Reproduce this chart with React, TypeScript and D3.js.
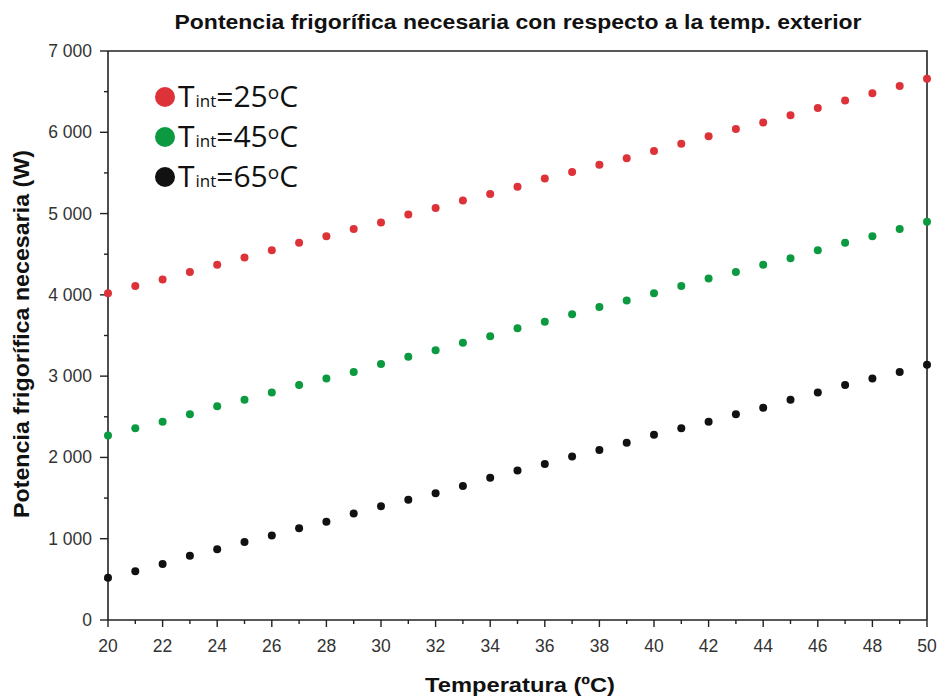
import React from "react";
import * as d3 from "d3";

const temps = d3.range(20, 51);
const tint25 = [4020, 4110, 4190, 4280, 4370, 4460, 4550, 4640, 4720, 4810, 4890, 4990, 5070, 5160, 5240, 5330, 5430, 5510, 5600, 5680, 5770, 5860, 5950, 6040, 6120, 6210, 6300, 6390, 6480, 6570, 6660];
const tint45 = [2270, 2360, 2440, 2530, 2630, 2710, 2800, 2890, 2970, 3050, 3150, 3240, 3320, 3410, 3490, 3590, 3670, 3760, 3850, 3930, 4020, 4110, 4200, 4280, 4370, 4450, 4550, 4640, 4720, 4810, 4900];
const tint65 = [520, 600, 690, 790, 870, 960, 1040, 1130, 1210, 1310, 1400, 1480, 1560, 1650, 1750, 1840, 1920, 2010, 2090, 2180, 2280, 2360, 2440, 2530, 2610, 2710, 2800, 2890, 2970, 3050, 3140];
const seriesLabels = ["25", "45", "65"];
const seriesColors = ["#dc3238", "#0c9a40", "#111111"];
const xTicks = d3.range(20, 51, 2);
const yTicks = d3.range(0, 7001, 1000);

const W = 939, H = 697;
const left = 108, right = 927, top = 51, bottom = 620;

export default function App() {
  const x = d3.scaleLinear().domain([20, 50]).range([left, right]);
  const y = d3.scaleLinear().domain([0, 7000]).range([bottom, top]);
  const series = [tint25, tint45, tint65];
  const fmt = (v: number) => (v >= 1000 ? d3.format(",")(v).replace(",", " ") : String(v));
  const font = "'Liberation Sans', Arial, sans-serif";

  return (
    <svg width={W} height={H} style={{ position: "absolute", left: 0, top: 0, background: "#fff" }}>
      <text x={518} y={29} textAnchor="middle" fontFamily={font} fontWeight="bold" fontSize={21} fill="#111"
        textLength={687} lengthAdjust="spacingAndGlyphs">
        Pontencia frigorífica necesaria con respecto a la temp. exterior
      </text>

      {/* frame */}
      <path d={`M${left},${top}H${right}V${bottom}`} fill="none" stroke="#222" strokeWidth={1.6} />
      <line x1={left} x2={left} y1={top} y2={bottom} stroke="#222" strokeWidth={1.6} />
      <line x1={left} x2={right} y1={bottom} y2={bottom} stroke="#222" strokeWidth={1.6} />

      {/* y ticks */}
      {yTicks.map((v) => (
        <g key={"y" + v}>
          <line x1={left - 8} x2={left} y1={y(v)} y2={y(v)} stroke="#222" strokeWidth={1.4} />
          <text x={left - 16} y={y(v) + 6} textAnchor="end" fontFamily={font} fontSize={17.5} fill="#333">
            {fmt(v)}
          </text>
        </g>
      ))}
      {d3.range(500, 7000, 1000).map((v) => (
        <line key={"ym" + v} x1={left - 4} x2={left} y1={y(v)} y2={y(v)} stroke="#222" strokeWidth={1.4} />
      ))}

      {/* x ticks */}
      {xTicks.map((v) => (
        <g key={"x" + v}>
          <line x1={x(v)} x2={x(v)} y1={bottom} y2={bottom + 7} stroke="#222" strokeWidth={1.4} />
          <text x={x(v)} y={bottom + 32} textAnchor="middle" fontFamily={font} fontSize={17.5} fill="#333">
            {v}
          </text>
        </g>
      ))}
      {d3.range(21, 50, 2).map((v) => (
        <line key={"xm" + v} x1={x(v)} x2={x(v)} y1={bottom} y2={bottom + 4} stroke="#222" strokeWidth={1.4} />
      ))}

      {/* points */}
      {series.map((vals, si) =>
        vals.map((v, i) => (
          <circle key={si + "-" + i} cx={x(temps[i])} cy={y(v)} r={4} fill={seriesColors[si]} />
        ))
      )}

      {/* axis titles */}
      <text x={520} y={692} textAnchor="middle" fontFamily={font} fontWeight="bold" fontSize={21} fill="#111"
        textLength={190} lengthAdjust="spacingAndGlyphs">
        Temperatura (ºC)
      </text>
      <text
        transform={`translate(29,334) rotate(-90)`}
        textAnchor="middle"
        fontFamily={font}
        fontWeight="bold"
        fontSize={22}
        fill="#111"
        textLength={368}
        lengthAdjust="spacingAndGlyphs"
      >
        Potencia frigorífica necesaria (W)
      </text>

      {/* legend */}
      {seriesLabels.map((lab, i) => {
        const cy = 97 + i * 40;
        return (
          <g key={"lg" + i}>
            <circle cx={165} cy={cy} r={10} fill={seriesColors[i]} />
            <text x={178} y={cy + 10} fontFamily="'Open Sans', 'Noto Sans', sans-serif" fontSize={30} fill="#111">
              T
              <tspan fontSize={17} dx={1}>int</tspan>
              <tspan>={lab}</tspan>
              <tspan fontSize={19} dy={-8}>o</tspan>
              <tspan dy={8}>C</tspan>
            </text>
          </g>
        );
      })}
    </svg>
  );
}
